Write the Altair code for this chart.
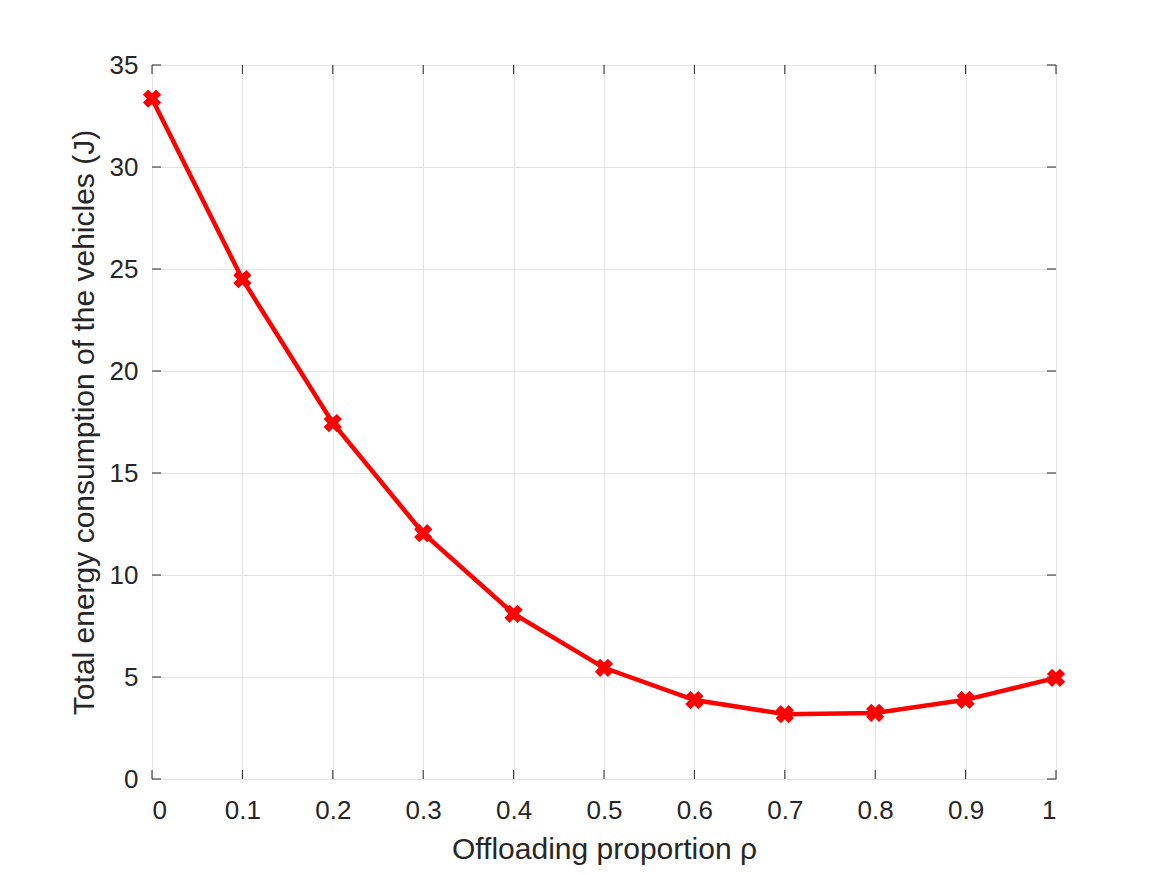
import altair as alt
import pandas as pd

rho = [0.0, 0.1, 0.2, 0.3, 0.4, 0.5, 0.6, 0.7, 0.8, 0.9, 1.0]
energy = [33.35, 24.5, 17.45, 12.05, 8.1, 5.45, 3.87, 3.18, 3.24, 3.88, 4.96]
x_ticks = [0, 0.1, 0.2, 0.3, 0.4, 0.5, 0.6, 0.7, 0.8, 0.9, 1]
y_ticks = [0, 5, 10, 15, 20, 25, 30, 35]

df = pd.DataFrame({"rho": rho, "energy": energy})
xt = pd.DataFrame({"t": x_ticks})
yt = pd.DataFrame({"t": y_ticks})

W, H = 904, 714
FONT = "Liberation Sans"
TXT = "#262626"
XTITLE = "Offloading proportion ρ"
YTITLE = "Total energy consumption of the vehicles (J)"

xs = alt.Scale(domain=[0, 1], nice=False)
ys = alt.Scale(domain=[0, 35], nice=False)

common = dict(grid=True, gridColor="#e3e3e3", gridWidth=1, domain=False, ticks=False,
              labelFontSize=26, labelColor=TXT, labelFont=FONT,
              titleFontSize=30, titleColor=TXT, titleFont=FONT, titleFontWeight="normal")

xaxis = alt.Axis(values=x_ticks, title=XTITLE,
                 labelExpr="datum.value == 0 ? '0' : datum.value == 1 ? '1' : format(datum.value, '.1f')",
                 labelPadding=18, titlePadding=11, **common)
yaxis = alt.Axis(values=y_ticks, title=YTITLE, labelPadding=14, titlePadding=10, **common)


def X(field):
    return alt.X(field, type="quantitative", scale=xs, axis=xaxis, title=XTITLE)


def Y(field):
    return alt.Y(field, type="quantitative", scale=ys, axis=yaxis, title=YTITLE)


line = alt.Chart(df).mark_line(color="#ff0000", strokeWidth=4.5).encode(
    x=X("rho"), y=Y("energy"))

pts = alt.Chart(df).mark_point(shape="cross", angle=45, filled=True, color="#ff0000",
                               size=340, opacity=1).encode(x=X("rho"), y=Y("energy"))

xb = alt.Chart(xt).mark_rule(color=TXT, strokeWidth=1).encode(
    x=X("t"), y=alt.value(H), y2=alt.value(H - 9))
xtop = alt.Chart(xt).mark_rule(color=TXT, strokeWidth=1).encode(
    x=X("t"), y=alt.value(0), y2=alt.value(9))
yl = alt.Chart(yt).mark_rule(color=TXT, strokeWidth=1).encode(
    y=Y("t"), x=alt.value(0), x2=alt.value(9))
yr = alt.Chart(yt).mark_rule(color=TXT, strokeWidth=1).encode(
    y=Y("t"), x=alt.value(W), x2=alt.value(W - 9))

chart = alt.layer(line, xb, xtop, yl, yr, pts).properties(
    width=W, height=H,
    view=alt.ViewBackground(stroke=TXT, strokeWidth=1, fill="white"),
    autosize=alt.AutoSizeParams(type="none"),
    padding={"left": 144, "top": 57, "right": 100, "bottom": 100},
    background="white",
).configure_view(stroke=TXT, strokeWidth=1).configure_axis(
    grid=True, gridColor="#e3e3e3", domain=False, ticks=False,
    labelFontSize=26, titleFontSize=30, labelFont=FONT, titleFont=FONT,
)

chart.save("out.html", embed_options={"renderer": "svg", "actions": False})
